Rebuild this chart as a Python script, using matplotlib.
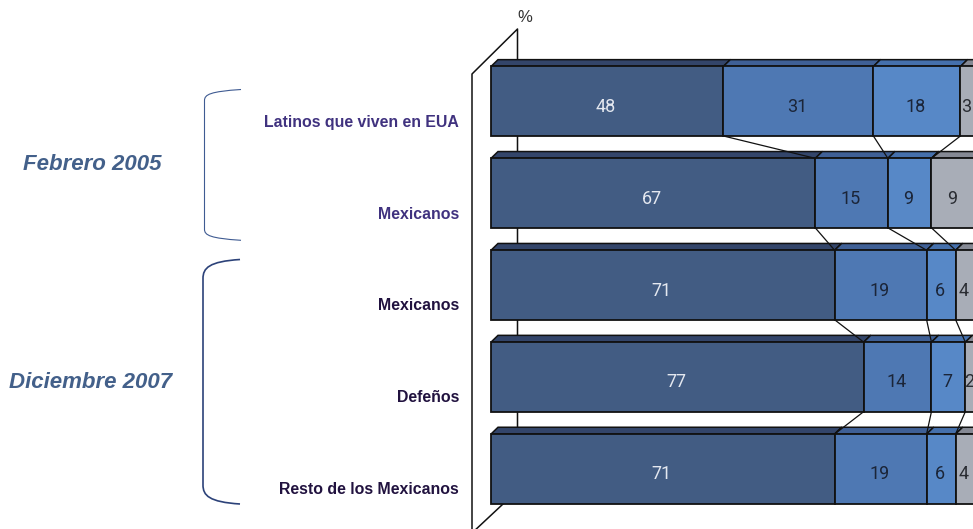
import matplotlib
matplotlib.use("Agg")
import matplotlib.pyplot as plt
from matplotlib.patches import Polygon, PathPatch
from matplotlib.path import Path
import numpy as np

# datos
grupos = ["Latinos que viven en EUA", "Mexicanos", "Mexicanos", "Defeños", "Resto de los Mexicanos"]
seg_1 = [48, 67, 71, 77, 71]
seg_2 = [31, 15, 19, 14, 19]
seg_3 = [18, 9, 6, 7, 6]
seg_4 = [3, 9, 4, 2, 4]
periodos = ["Febrero 2005", "Diciembre 2007"]

colores = ["#425C83", "#4E78B3", "#5788C7", "#A8ADB7"]
colores_top = ["#33456A", "#3F6096", "#4570AC", "#858994"]
colores_txt = ["#E4E8F0", "#1B2538", "#1B2538", "#2A2D33"]
col_grupos = ["#40327F", "#40327F", "#21123F", "#21123F", "#21123F"]

W, H = 973, 529
PX_X = 4.84  # px por cada 1%
PX_Y = 91.9  # px entre barras
X0 = 491
Y0 = 101.2
ALTO = 69.5 / PX_Y
DX = 7 / PX_X
DY = 6.8 / PX_Y

fig = plt.figure(figsize=(W / 100, H / 100), dpi=100)

# fondo: paredes, llaves y textos en pixeles
bg = fig.add_axes([0, 0, 1, 1], zorder=0)
bg.set_xlim(0, W)
bg.set_ylim(H, 0)
bg.axis("off")

bg.plot([472, 472, 517.5, 517.5], [535, 74, 29, 440], color="#111111", lw=1.1)
bg.plot([503, 472], [504, 533], color="#111111", lw=1.1)
bg.text(524.5, 17, "%", ha="center", va="center", fontsize=12, color="#333333",
        family="Liberation Sans")


def llave(x0, x1, y0, y1, curva, color, lw):
    verts = [(x1, y0), (x0 + 6, y0 + 2), (x0, y0 + curva * 0.45), (x0, y0 + curva),
             (x0, y1 - curva), (x0, y1 - curva * 0.45), (x0 + 6, y1 - 2), (x1, y1)]
    codes = [Path.MOVETO, Path.CURVE4, Path.CURVE4, Path.CURVE4,
             Path.LINETO, Path.CURVE4, Path.CURVE4, Path.CURVE4]
    bg.add_patch(PathPatch(Path(verts, codes), fc="none", ec=color, lw=lw))


llave(204.5, 241, 89.5, 240.3, 11, "#3F5B92", 0.8)
llave(203, 240, 259.5, 504, 19, "#2C4279", 1.2)

bg.text(92.2, 165, periodos[0], ha="center", va="center", fontsize=16, color="#43608A",
        family="Liberation Sans", weight="bold", style="italic")
bg.text(91, 382, periodos[1], ha="center", va="center", fontsize=16, color="#43608A",
        family="Liberation Sans", weight="bold", style="italic")

# barras
ax = fig.add_axes([0, 0, 1, 1], zorder=1)
ax.patch.set_alpha(0)
ax.set_xlim(-X0 / PX_X, (W - X0) / PX_X)
ax.set_ylim((H - Y0) / PX_Y, -Y0 / PX_Y)
ax.axis("off")

filas = np.arange(len(grupos))
series = [seg_1, seg_2, seg_3, seg_4]
izq = np.zeros(len(grupos))
bordes = []
for s, vals in enumerate(series):
    vals = np.array(vals)
    for f in filas:
        top = f - ALTO / 2
        ax.add_patch(Polygon([(izq[f], top), (izq[f] + vals[f], top),
                              (izq[f] + vals[f] + DX, top - DY), (izq[f] + DX, top - DY)],
                             closed=True, fc=colores_top[s], ec="#111111", lw=1.1, zorder=2))
    ax.barh(filas, vals, left=izq, height=ALTO, color=colores[s], edgecolor="#111111",
            linewidth=1.3, zorder=3)
    for f in filas:
        ax.annotate(str(vals[f]), (izq[f] + vals[f] / 2, f), xytext=(-1, -4),
                    textcoords="offset points", ha="center", va="center", fontsize=13,
                    color=colores_txt[s], family="Roboto", zorder=5)
    izq = izq + vals
    bordes.append(izq.copy())

# lineas entre barras
for b in bordes[:3]:
    for f in filas[:-1]:
        ax.plot([b[f], b[f + 1]], [f + ALTO / 2, f + 1 - ALTO / 2], color="#111111", lw=0.9, zorder=4)

# etiquetas de cada barra
for f in filas:
    y_px = Y0 + PX_Y * f + (21.5 - 0.3 * f)
    bg.text(459, y_px, grupos[f], ha="right", va="center", fontsize=11.4, color=col_grupos[f],
            family="Liberation Sans", weight="bold")

fig.savefig("out.png", dpi=100)
